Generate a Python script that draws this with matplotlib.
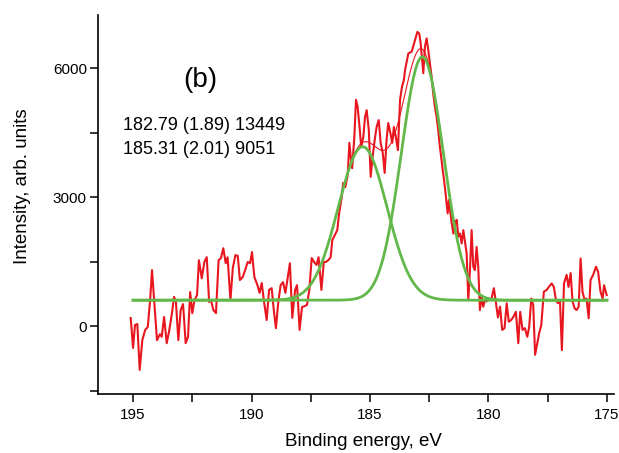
import numpy as np
import matplotlib
matplotlib.use("Agg")
import matplotlib.pyplot as plt
from matplotlib.ticker import MultipleLocator

plt.rcParams['font.family'] = ['Liberation Sans', 'DejaVu Sans']

# measured spectrum (binding energy in eV, intensity in arb. units)
energy = [
    195.10, 195.00, 194.92, 194.82, 194.72, 194.61, 194.49, 194.38, 194.28, 194.20,
    194.10, 193.99, 193.87, 193.79, 193.69, 193.58, 193.47, 193.35, 193.27, 193.19,
    193.09, 192.99, 192.89, 192.78, 192.68, 192.59, 192.50, 192.41, 192.30, 192.22,
    192.10, 191.99, 191.89, 191.79, 191.71, 191.61, 191.50, 191.39, 191.29, 191.19,
    191.09, 191.01, 190.89, 190.79, 190.68, 190.58, 190.49, 190.37, 190.27, 190.16,
    190.06, 189.98, 189.88,
    189.75, 189.66, 189.57, 189.47, 189.36, 189.26, 189.15, 189.06, 188.97, 188.87,
    188.77, 188.67, 188.57, 188.47, 188.38, 188.28, 188.16, 188.08, 187.97, 187.87,
    187.77, 187.66, 187.56, 187.46, 187.36, 187.26, 187.17, 187.05, 186.95, 186.86,
    186.76, 186.66, 186.59, 186.48, 186.38,
    186.30, 186.19, 186.13, 186.04, 185.94, 185.87, 185.81, 185.75, 185.66, 185.59,
    185.52, 185.43, 185.37, 185.28, 185.21, 185.14, 185.05, 184.97, 184.89, 184.80,
    184.72, 184.63, 184.55, 184.46, 184.38, 184.30, 184.23, 184.14, 184.06, 183.99,
    183.90, 183.82, 183.73, 183.65, 183.57,
    183.52, 183.38, 183.24, 183.10, 183.00, 182.92, 182.86, 182.81, 182.75, 182.68,
    182.61, 182.54, 182.47, 182.40, 182.33, 182.26, 182.19, 182.12, 182.05, 181.98,
    181.91, 181.84, 181.77, 181.72, 181.67, 181.62, 181.55, 181.48, 181.41, 181.34,
    181.27, 181.20, 181.13, 181.06, 180.99, 180.92, 180.85, 180.78, 180.71, 180.64,
    180.57, 180.50, 180.43, 180.36, 180.29, 180.22, 180.15, 180.08,
    180.05, 179.97, 179.87, 179.77, 179.68, 179.60, 179.51, 179.42, 179.32, 179.23,
    179.14, 179.04, 178.94, 178.84, 178.74, 178.66, 178.56, 178.46, 178.36, 178.28,
    178.19, 178.11, 178.03, 177.94, 177.86, 177.77, 177.66, 177.54, 177.45, 177.33,
    177.24, 177.15, 177.07, 176.98, 176.90, 176.81, 176.70, 176.62, 176.53, 176.45,
    176.36, 176.28, 176.19, 176.11, 176.03, 175.94, 175.86, 175.77, 175.69, 175.58,
    175.46, 175.37, 175.27, 175.18, 175.12, 175.01,
]
intensity = [
    186, -510, 23, 46, -1020, -330, -93, -23, 600, 1300,
    530, -330, -190, -250, 210, -400, -90, 330, 680, 560,
    -330, 370, 510, -400, -250, 790, 300, 600, 720, 1530,
    1110, 1490, 1600, 560, 600, 370, 300, 1530, 1580, 1810,
    1460, 1600, 600, 1350, 1650, 1630, 1070, 1140, 1300, 1490,
    1460, 1720, 1140,
    950, 770, 1000, 560, 140, 840, 880, 370, -50, 560,
    950, 1020, 770, 1140, 1460, 190, 840, 950, -90, 440,
    460, 490, 840, 1580, 1490, 1420, 1600, 840, 1490, 1490,
    1530, 1600, 2000, 2120, 2230,
    2630, 3000, 3330, 3230, 3510, 4260, 3930, 3670, 4400, 5260,
    5100, 4560, 4160, 4400, 4860, 5020, 4560, 3470, 3930, 4330,
    4630, 4790, 4260, 4020, 3560, 4330, 4720, 4490, 4260, 4630,
    4370, 4090, 5260, 5560, 5720,
    5950, 6340, 6380, 6650, 6840, 6800, 6570, 6260, 5880, 6500,
    6690, 6420, 6110, 5800, 5410, 5100, 4870, 4560, 4170, 3860,
    3550, 3240, 2890, 2620, 2930, 2700, 2390, 2150, 2390, 2470,
    2080, 2150, 1920, 2230, 1960, 1690, 600, 1300, 2230, 1380,
    1300, 1840, 1380, 370, 680, 450, 600, 570,
    605, 605, 640, 880, 530, 200, 450, -90, -50, 530,
    100, 140, 220, 330, -400, 330, -90, -50, -250, -15,
    640, 490, -670, -400, -170, 20, 800, 840, 910, 990,
    910, 600, 530, 570, -560, 990, 1190, 910, 1230, 570,
    410, 370, 450, 1570, 800, 600, 640, 180, 1070, 1190,
    1380, 1260, 800, 640, 950, 720,
]

# fit components: centre (eV), visual FWHM (eV), height above background
centres = [182.79, 185.31]
widths = [2.08, 2.42]
heights = [5660, 3570]
background = 600
annotations = ["182.79 (1.89) 13449", "185.31 (2.01) 9051"]

red = '#E8161E'
green = '#62B84A'

fig = plt.figure(figsize=(6.19, 4.53), dpi=100)
ax = fig.add_axes([98/619, 59/453, (614-98)/619, (394-15)/453])

ax.plot(energy, intensity, color=red, lw=1.5, zorder=3)

efit = np.linspace(195.0, 175.0, 801)
total = np.full_like(efit, background, dtype=float)
for c, w, h in zip(centres, widths, heights):
    sig = w / 2.3548
    comp = h * np.exp(-(efit - c)**2 / (2 * sig**2))
    total += comp
    ax.plot(efit, background + comp, color=green, lw=2.0, zorder=4)
ax.plot(efit, total, color=red, lw=0.8, zorder=2)

ax.set_xlim(196.48, 174.7)
ax.set_ylim(-1581, 7233)

ax.spines['top'].set_visible(False)
ax.spines['right'].set_visible(False)
for s in ['left', 'bottom']:
    ax.spines[s].set_linewidth(1.2)

ax.xaxis.set_major_locator(MultipleLocator(5))
ax.xaxis.set_minor_locator(MultipleLocator(2.5))
ax.yaxis.set_major_locator(MultipleLocator(3000))
ax.yaxis.set_minor_locator(MultipleLocator(1500))
ax.tick_params(which='both', direction='out', length=6, width=1.1, labelsize=11)
ax.tick_params(axis='x', pad=4)
ax.tick_params(axis='y', pad=2)

ax.set_xlabel('Binding energy, eV', fontsize=13.5)
ax.set_ylabel('Intensity, arb. units', fontsize=13.5)
ax.xaxis.set_label_coords(0.514, -0.103)
ax.yaxis.set_label_coords(-0.13, 0.547)

ax.text(200/619, 1 - 80/453, '(b)', transform=fig.transFigure, fontsize=20,
        ha='center', va='center')
ax.text(123/619, 1 - 126/453, annotations[0], transform=fig.transFigure,
        fontsize=13, ha='left', va='center')
ax.text(123/619, 1 - 149/453, annotations[1], transform=fig.transFigure,
        fontsize=13, ha='left', va='center')

fig.savefig('out.png', dpi=100)
